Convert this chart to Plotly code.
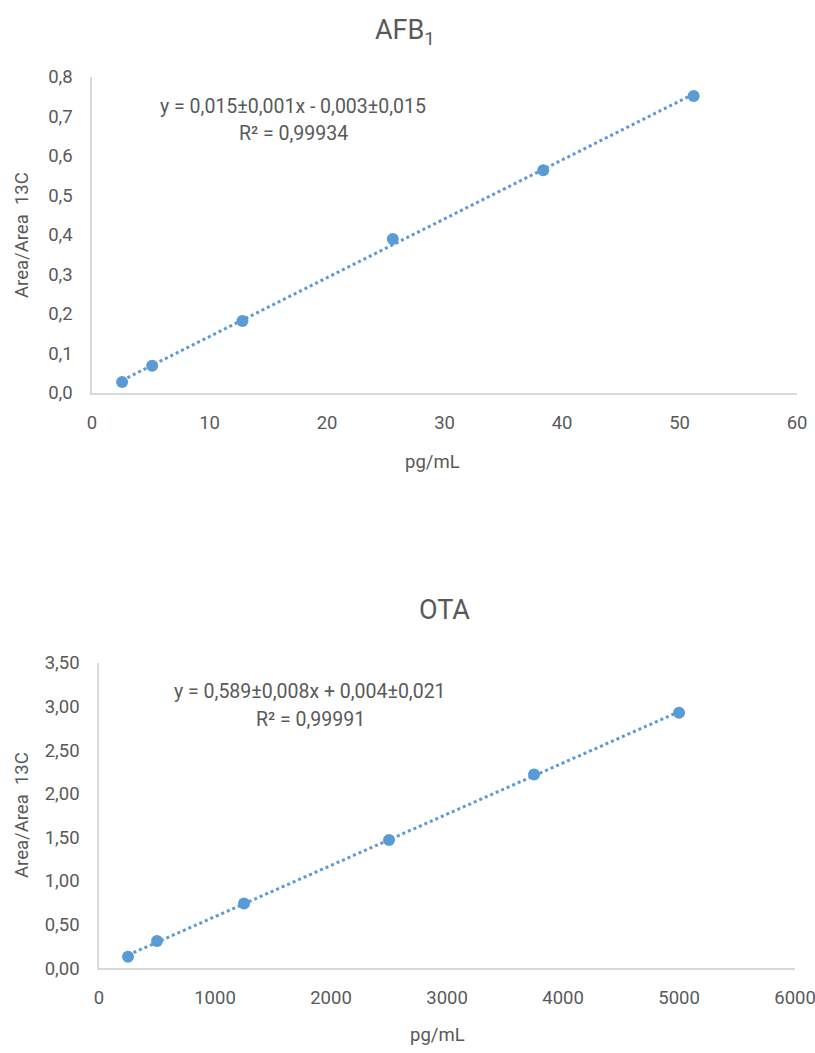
import numpy as np
import plotly.graph_objects as go

# AFB1 calibration
afb_x = [2.56, 5.12, 12.8, 25.6, 38.4, 51.2]
afb_y = [0.028, 0.069, 0.182, 0.390, 0.564, 0.752]
afb_eq = "y = 0,015±0,001x - 0,003±0,015"
afb_r2 = "R² = 0,99934"

# OTA calibration
ota_x = [250, 500, 1250, 2500, 3750, 5000]
ota_y = [0.13, 0.31, 0.74, 1.47, 2.22, 2.93]
ota_eq = "y = 0,589±0,008x + 0,004±0,021"
ota_r2 = "R² = 0,99991"

BLUE = "#5b9bd5"
GREY = "#595959"
AX = "#d9d9d9"
FONT = "Roboto"

fig = go.Figure()

def add_series(xs, ys, xa, ya):
    xs = np.array(xs, float)
    ys = np.array(ys, float)
    m, b = np.polyfit(xs, ys, 1)
    tx = np.array([xs.min(), xs.max()])
    fig.add_trace(go.Scatter(x=tx, y=m * tx + b, mode="lines",
                             line=dict(color=BLUE, width=3, dash="dot"),
                             xaxis=xa, yaxis=ya, showlegend=False, hoverinfo="skip"))
    fig.add_trace(go.Scatter(x=xs, y=ys, mode="markers",
                             marker=dict(color=BLUE, size=12),
                             xaxis=xa, yaxis=ya, showlegend=False))

add_series(afb_x, afb_y, "x", "y")
add_series(ota_x, ota_y, "x2", "y2")

common_axis = dict(showgrid=False, zeroline=False, showline=True, linecolor=AX, linewidth=1.5,
                   ticks="", automargin=False, ticklabeloverflow="allow",
                   tickfont=dict(family=FONT, size=18.5, color=GREY))

fig.update_layout(
    width=815, height=1053, margin=dict(l=0, r=0, t=0, b=0),
    paper_bgcolor="white", plot_bgcolor="white", separators=",.",
    font=dict(family=FONT, color=GREY),
    xaxis=dict(domain=[0.1129, 0.978], range=[0, 60], dtick=10, anchor="y",
               ticklabelstandoff=12, **common_axis),
    yaxis=dict(domain=[0.6268, 0.9269], range=[0, 0.8], dtick=0.1, tickformat=".1f", anchor="x",
               ticklabelstandoff=14, **common_axis),
    xaxis2=dict(domain=[0.1215, 0.9755], range=[0, 6000], dtick=1000, tickformat="d", anchor="y2",
                ticklabelstandoff=12, **common_axis),
    yaxis2=dict(domain=[0.0807, 0.3704], range=[0, 3.5], dtick=0.5, tickformat=".2f", anchor="x2",
                ticklabelstandoff=14, **common_axis),
)

def ann(text, x, y, size, angle=0):
    fig.add_annotation(text=text, x=x / 815, y=1 - y / 1053, xref="paper", yref="paper",
                       showarrow=False, textangle=angle, xanchor="center", yanchor="middle",
                       font=dict(family=FONT, size=size, color=GREY))

ann("AFB<sub>1</sub>", 405, 32, 27)
ann(afb_eq, 293, 106, 19.5)
ann(afb_r2, 293, 134, 19.5)
ann("pg/mL", 432, 462, 18.5)
ann("Area/Area  13C", 22, 235, 18.5, -90)

ann("OTA", 445, 610, 27)
ann(ota_eq, 310, 691, 19.5)
ann(ota_r2, 310, 719, 19.5)
ann("pg/mL", 437, 1035, 18.5)
ann("Area/Area  13C", 22, 815, 18.5, -90)

fig.write_html("out.html")
